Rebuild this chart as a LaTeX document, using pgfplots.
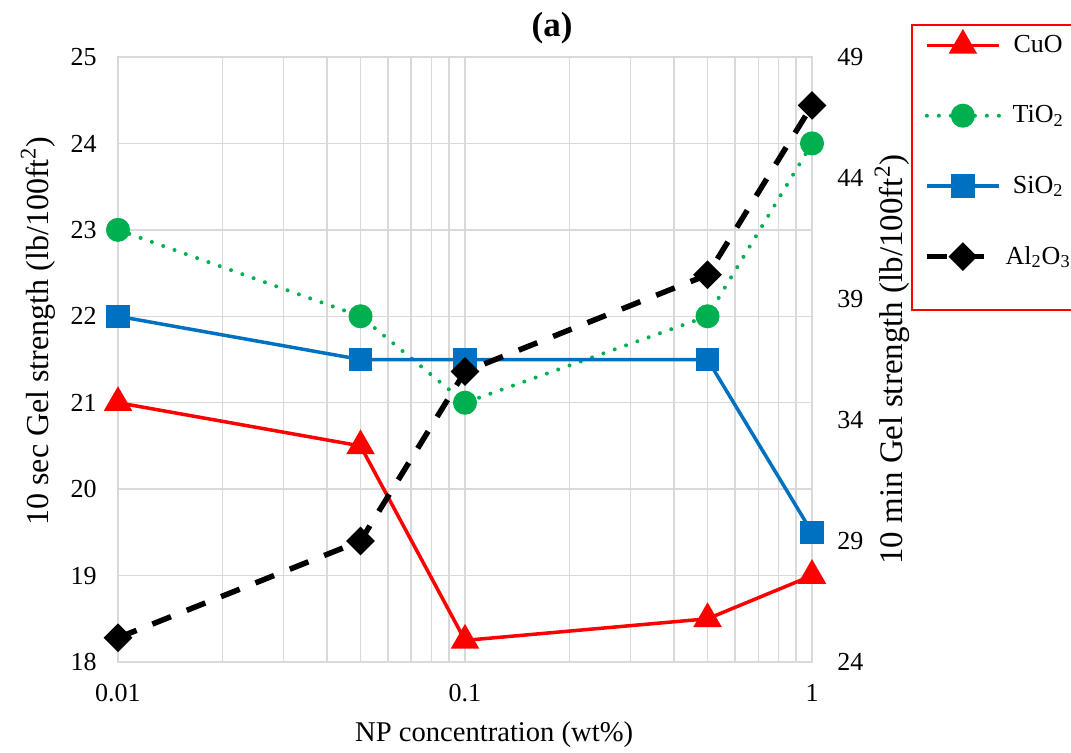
\documentclass[border=0pt]{standalone}
\usepackage{fontspec}
\setmainfont{Liberation Serif}
\usepackage{pgfplots}
\pgfplotsset{compat=1.18}
\pgfkeys{/pgf/number format/assume math mode=true}
\definecolor{cuo}{RGB}{255,0,0}
\definecolor{tio}{RGB}{0,176,80}
\definecolor{sio}{RGB}{0,112,192}
\definecolor{gridc}{RGB}{217,217,217}
\pgfplotsset{
 legend image code/.code={\draw[mark repeat=2,mark phase=2,#1] plot coordinates {(0pt,0pt) (18pt,0pt) (36pt,0pt)};},
}
\begin{document}
\begin{tikzpicture}
\useasboundingbox (-59pt,-45.5pt) rectangle (476.5pt,331pt);
\begin{axis}[
  at={(0,0)}, anchor=south west,
  scale only axis, width=347pt, height=302.5pt,
  xmode=log, xmin=0.01, xmax=1,
  tick label style={font=\fontsize{13}{15}\selectfont, inner sep=0pt},
  major tick length=0pt, minor tick length=0pt,
  clip=false,
  ymin=18, ymax=25, ytick={18,...,25},
  xtick={0.01,0.1,1}, xticklabels={0.01,0.1,1},
  xmajorgrids=true, xminorgrids=true, ymajorgrids=true,
  major grid style={gridc, line width=0.75pt},
  minor grid style={gridc, line width=0.75pt},
  axis line style={gridc, line width=0.75pt},
  xticklabel style={anchor=center, yshift=-15.5pt},
  yticklabel style={anchor=east, xshift=-10.5pt},
  xlabel={NP concentration (wt\%)},
  xlabel style={at={(axis description cs:0.542,0)}, anchor=center, yshift=-36.5pt, font=\fontsize{14.3}{17}\selectfont},
  ylabel={10 sec Gel strength (lb/100ft\textsuperscript{2})},
  ylabel style={at={(axis description cs:-0.1153,0.547)}, anchor=center, font=\fontsize{16}{19}\selectfont},
  title={\textbf{(a)}},
  title style={at={(axis description cs:0.6254,1.0281)}, anchor=center, yshift=0pt, font=\fontsize{17.5}{20}\selectfont},
]
\addplot[cuo, line width=1.75pt, mark=triangle*, mark size=6.5pt, mark options={solid}]
  coordinates {(0.01,21) (0.05,20.5) (0.1,18.25) (0.5,18.5) (1,19)};
\addplot[tio, line width=2pt, line cap=round, dash pattern=on 0pt off 6pt, mark=*, mark size=5pt, mark options={solid}]
  coordinates {(0.01,23) (0.05,22) (0.1,21) (0.5,22) (1,24)};
\addplot[sio, line width=1.75pt, mark=square*, mark size=5pt, mark options={solid}]
  coordinates {(0.01,22) (0.05,21.5) (0.1,21.5) (0.5,21.5) (1,19.5)};
\end{axis}
\begin{axis}[
  at={(0,0)}, anchor=south west,
  scale only axis, width=347pt, height=302.5pt,
  xmode=log, xmin=0.01, xmax=1,
  tick label style={font=\fontsize{13}{15}\selectfont, inner sep=0pt},
  major tick length=0pt, minor tick length=0pt,
  clip=false,
  axis x line=none, axis y line*=right,
  y axis line style={draw=none},
  ymin=24, ymax=49, ytick={24,29,...,49},
  yticklabel style={anchor=west, xshift=12.5pt},
  ylabel={10 min Gel strength (lb/100ft\textsuperscript{2})},
  ylabel style={at={(axis description cs:1.1153,0.5)}, anchor=center, font=\fontsize{16.5}{19}\selectfont},
  legend style={at={(axis description cs:1.161,1.043)}, anchor=north west, draw=none, fill=none,
    inner sep=0pt, row sep=21pt, font=\fontsize{13}{15}\selectfont},
  legend cell align=center,
]
\addlegendimage{cuo, line width=1.75pt, mark=triangle*, mark size=6.5pt, mark options={solid}}
\addlegendentry{CuO}
\addlegendimage{tio, line width=2pt, line cap=round, dash pattern=on 0pt off 6pt, mark=*, mark size=5pt, mark options={solid}}
\addlegendentry{TiO\textsubscript{2}}
\addlegendimage{sio, line width=1.75pt, mark=square*, mark size=5pt, mark options={solid}}
\addlegendentry{SiO\textsubscript{2}}
\addplot[black, line width=2.75pt, dash pattern=on 10pt off 8.5pt, mark=square*, mark size=3.7pt, mark options={solid, rotate=45}]
  coordinates {(0.01,25) (0.05,29) (0.1,36) (0.5,40) (1,47)};
\addlegendentry{Al\textsubscript{2}O\textsubscript{3}}
\end{axis}
\draw[cuo, line width=1pt] (397pt,176pt) rectangle (485pt,318.5pt);
\end{tikzpicture}
\end{document}
